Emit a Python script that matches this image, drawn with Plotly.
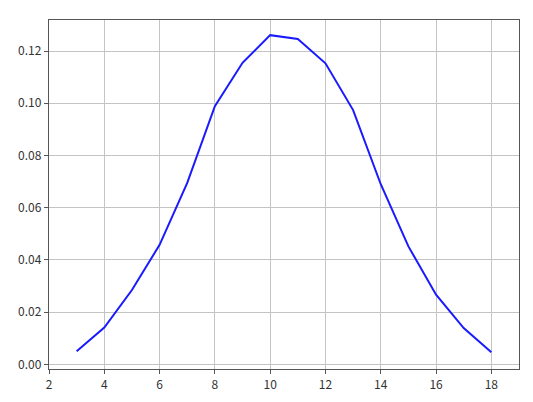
import plotly.graph_objects as go

sums = [3, 4, 5, 6, 7, 8, 9, 10, 11, 12, 13, 14, 15, 16, 17, 18]
probs = [0.0050, 0.0141, 0.0285, 0.0458, 0.0695, 0.0989, 0.1155, 0.1261,
         0.1246, 0.1153, 0.0974, 0.0690, 0.0452, 0.0267, 0.0139, 0.0047]
x_ticks = [2, 4, 6, 8, 10, 12, 14, 16, 18]
y_ticks = [0.00, 0.02, 0.04, 0.06, 0.08, 0.10, 0.12]

fig = go.Figure(go.Scatter(x=sums, y=probs, mode="lines",
                           line=dict(color="#1a1aff", width=2)))

axis_common = dict(showline=True, linecolor="#555555", linewidth=1.3, mirror=True,
                   showgrid=True, gridcolor="#c4c4c4", gridwidth=1,
                   ticks="outside", ticklen=4, tickcolor="#555555", tickwidth=1,
                   zeroline=False, automargin=False,
                   tickfont=dict(family="Noto Sans CJK SC, DejaVu Sans", size=12, color="#333333"))

fig.update_xaxes(range=[2, 19], tickvals=x_ticks, **axis_common)
fig.update_yaxes(range=[-0.00176, 0.1319], tickvals=y_ticks, tickformat=".2f", **axis_common)

fig.update_layout(width=525, height=394, plot_bgcolor="white", paper_bgcolor="white",
                  margin=dict(l=41, r=14, t=12, b=33), showlegend=False)

fig.write_html("out.html")
